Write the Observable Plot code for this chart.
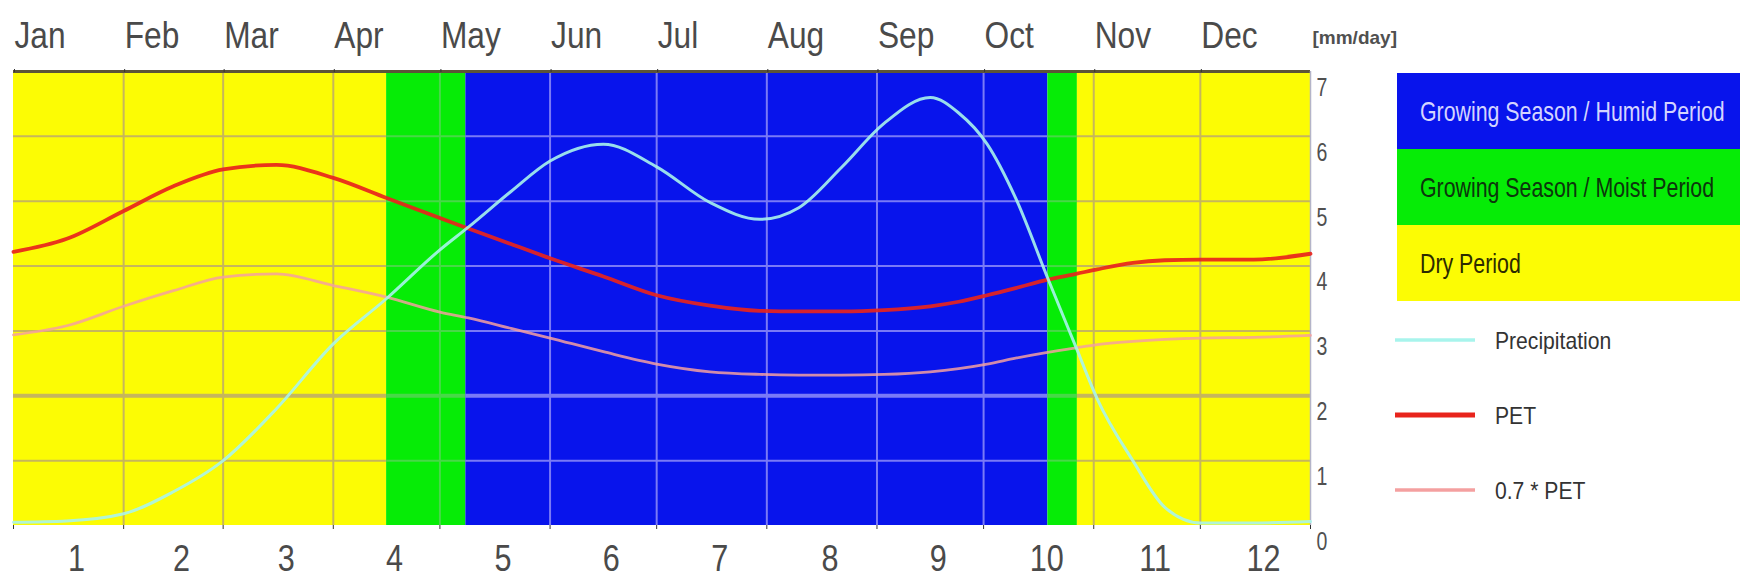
<!DOCTYPE html>
<html><head><meta charset="utf-8">
<script src="https://cdn.jsdelivr.net/npm/d3@7"></script>
<script src="https://cdn.jsdelivr.net/npm/@observablehq/plot@0.6"></script>
<style>
html,body{margin:0;padding:0;background:#fff;}
#wrap{position:relative;width:1740px;height:583px;overflow:hidden;background:#fff;}
#wrap svg{position:absolute;left:0;top:0;}
</style></head>
<body><div id="wrap"></div>
<script>
// ---- data ----
const monthNames = ["Jan","Feb","Mar","Apr","May","Jun","Jul","Aug","Sep","Oct","Nov","Dec"];
const monthNumbers = [1,2,3,4,5,6,7,8,9,10,11,12];
const monthStart = [0,31,59,90,120,151,181,212,243,273,304,334];
const monthEnd = [31,59,90,120,151,181,212,243,273,304,334,365];
const yTicks = [0,1,2,3,4,5,6,7];

const bandStart = [0, 105, 127.3, 291.1, 299.4];
const bandEnd   = [105, 127.3, 291.1, 299.4, 365];
const bandType  = ["dry","moist","humid","moist","dry"];

const days          = [0,15,31,45,59,74,90,105,120,128,140,151,166,181,196,210,221,233,245,258,266,274,282,291,299,305,315,324,334,349,365];
const precipitation = [0.05,0.07,0.18,0.52,1.0,1.8,2.8,3.5,4.25,4.6,5.15,5.62,5.88,5.53,4.98,4.72,4.9,5.52,6.2,6.6,6.36,5.88,5.05,3.82,2.75,1.95,1.0,0.28,0.04,0.04,0.06];
const pet           = [4.22,4.42,4.85,5.23,5.49,5.56,5.36,5.05,4.74,4.58,4.34,4.12,3.84,3.55,3.39,3.31,3.30,3.30,3.32,3.38,3.45,3.55,3.66,3.79,3.88,3.95,4.05,4.09,4.1,4.1,4.19];
const pet07         = [2.94,3.08,3.38,3.62,3.83,3.88,3.70,3.52,3.29,3.20,3.04,2.89,2.68,2.49,2.37,2.33,2.32,2.32,2.33,2.37,2.42,2.49,2.58,2.67,2.74,2.79,2.84,2.87,2.89,2.90,2.93];

const legendBoxLabels = ["Growing Season / Humid Period","Growing Season / Moist Period","Dry Period"];
const legendBoxTypes  = ["humid","moist","dry"];
const legendLineLabels = ["Precipitation","PET","0.7 * PET"];
const unitLabel = "[mm/day]";

// ---- styles ----
const bandFill  = {humid:"#0814ec", moist:"#06ec06", dry:"#fcfc04"};
const gridColor = {humid:"#7a7af6", moist:"#48d848", dry:"#c6b65c"};
const boxText   = {humid:"#d4d4ff", moist:"#0c360c", dry:"#2c2a00"};
const seriesColor = {"Precipitation":"#a8f4ec", "PET":"#e8241c", "0.7 * PET":"#f4a0a0"};
const seriesWidth = {"Precipitation":3, "PET":3.8, "0.7 * PET":2.8};
const seriesOpacity = {"Precipitation":0.9, "PET":0.92, "0.7 * PET":0.85};
const font = "'Liberation Sans', Arial, sans-serif";

// ---- derived tables ----
const bands = bandStart.map((s,i)=>({start:s, end:bandEnd[i], type:bandType[i]}));
const monthMid = monthStart.map((s,i)=>(s+monthEnd[i])/2);
const hGrid = bands.flatMap(b => yTicks.filter(t=>t>0 && t<7).map(t=>({y:t, x1:b.start, x2:b.end, type:b.type})));
const vGrid = monthStart.slice(1).map(d=>({x:d, type:bands.find(b=>d>=b.start && d<b.end).type}));
const seriesValues = {"Precipitation":precipitation, "PET":pet, "0.7 * PET":pet07};
const lineTable = name => days.map((d,i)=>({day:d, value:seriesValues[name][i], name}));

const lineMark = name => Plot.line(lineTable(name), {x:"day", y:"value", stroke:seriesColor[name], strokeWidth:seriesWidth[name], strokeOpacity:seriesOpacity[name], curve:"monotone-x"});

const chart = Plot.plot({
  width:1740, height:583,
  marginTop:71, marginBottom:58, marginLeft:13, marginRight:430,
  x:{domain:[0,365], label:null},
  y:{domain:[0,7], label:null},
  color:{type:"identity"},
  style:{fontFamily:font, background:"transparent", overflow:"visible"},
  marks:[
    Plot.rect(bands, {x1:"start", x2:"end", y1:()=>0, y2:()=>7, fill:d=>bandFill[d.type]}),
    Plot.ruleY(hGrid, {y:"y", x1:"x1", x2:"x2", stroke:d=>gridColor[d.type], strokeWidth:d=>d.y===2?4:2}),
    Plot.ruleX(vGrid, {x:"x", stroke:d=>gridColor[d.type], strokeWidth:2}),
    Plot.ruleY([7], {stroke:"#5c5438", strokeWidth:3}),
    Plot.ruleX([365], {stroke:"#b4b4c8", strokeWidth:1.5}),
    lineMark("0.7 * PET"),
    lineMark("PET"),
    lineMark("Precipitation"),
    Plot.axisX(monthStart, {anchor:"top", tickSize:3, tickPadding:21, textAnchor:"start", dx:1,
      tickFormat:d=>monthNames[monthStart.indexOf(d)], fontSize:36, fill:"#4a4a4a", stroke:"#333", label:null}),
    Plot.axisX([0,...monthEnd], {anchor:"bottom", tickSize:4, tickFormat:()=>"", stroke:"#333", label:null}),
    Plot.axisX(monthMid, {anchor:"bottom", tickSize:0, tickPadding:20, dx:8,
      tickFormat:d=>String(monthNumbers[monthMid.indexOf(d)]), fontSize:36, fill:"#4a4a4a", label:null}),
    Plot.axisY(yTicks, {anchor:"right", tickSize:0, tickPadding:6, dy:16, fontSize:26, fill:"#505050",
      tickFormat:d=>String(d), label:null}),
    Plot.text([unitLabel], {frameAnchor:"top-right", textAnchor:"start", dx:2, dy:-41, fontSize:19, fill:"#505050", fontWeight:"bold"})
  ]
});

const wrap = document.getElementById("wrap");
wrap.appendChild(chart);

// ---- legend (drawn beside the frame) ----
const L = {boxX:1397, boxW:343, boxY:73, boxH:76, lineX1:1395, lineX2:1475, lineY:340, lineStep:75, textX:1495};
const leg = d3.select(wrap).append("svg").attr("width",1740).attr("height",583).style("font-family",font);
legendBoxLabels.forEach((lab,i)=>{
  const t = legendBoxTypes[i];
  leg.append("rect").attr("x",L.boxX).attr("y",L.boxY+i*L.boxH).attr("width",L.boxW).attr("height",L.boxH).attr("fill",bandFill[t]);
  leg.append("text").attr("class","boxlab")
    .attr("transform",`translate(${L.boxX+23},${L.boxY+i*L.boxH+L.boxH/2}) scale(1,1.25)`)
    .attr("dominant-baseline","central").attr("font-size",22).attr("fill",boxText[t]).text(lab);
});
legendLineLabels.forEach((lab,i)=>{
  const y = L.lineY+i*L.lineStep;
  leg.append("line").attr("x1",L.lineX1).attr("x2",L.lineX2).attr("y1",y).attr("y2",y)
    .attr("stroke",seriesColor[lab]).attr("stroke-width",lab==="PET"?5:3.5);
  leg.append("text").attr("class","linelab").attr("x",L.textX).attr("y",y)
    .attr("dominant-baseline","central").attr("font-size",24).attr("fill","#333").text(lab);
});

// ---- condense the tall narrow lettering ----
function condense(node, ratio){
  const len = node.getComputedTextLength();
  if (len > 0 && ratio !== 1) { node.setAttribute("textLength", len*ratio); node.setAttribute("lengthAdjust","spacingAndGlyphs"); }
}
d3.select(chart).selectAll("text").each(function(){
  const txt = this.textContent;
  const g = this.closest("g[aria-label]");
  const lab = g ? g.getAttribute("aria-label") : "";
  if (monthNames.includes(txt)) condense(this, 0.88);
  else if (lab.startsWith("y-axis")) condense(this, 0.75);
  else if (/^\d+$/.test(txt)) condense(this, 0.85);
});
leg.selectAll("text.boxlab").each(function(){ condense(this, 0.97); });
leg.selectAll("text.linelab").each(function(){ condense(this, 0.88); });
</script>
</body></html>
